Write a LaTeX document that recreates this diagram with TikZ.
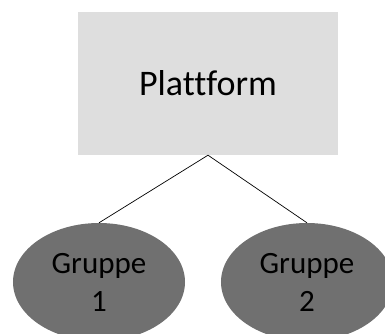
\documentclass[tikz,border=0pt]{standalone}
\usepackage{fontspec}
\setmainfont{Carlito}[Ligatures=NoCommon]
\usetikzlibrary{shapes.geometric}
\definecolor{boxgray}{HTML}{DEDEDE}
\definecolor{groupgray}{HTML}{707070}
\begin{document}
\begin{tikzpicture}[x=1bp, y=-1bp,
                    box/.style = {fill=boxgray, minimum width=260bp, minimum height=143bp, inner sep=0pt, font=\fontsize{36bp}{43bp}\selectfont},
                    group/.style = {ellipse, fill=groupgray, minimum width=172bp, minimum height=118bp, inner sep=0pt, align=center, font=\fontsize{31bp}{38bp}\selectfont}]
                                \useasboundingbox (0,0) rectangle (385,334);
                                \node[box] (1) at (208,83.5) {Plattform};
                                \node[group] (2) at (99,282) {Gruppe\\1};
                                \node[group] (3) at (307,282) {Gruppe\\2};
                                \draw[line width=0.7bp] (1.south) -- (2.north);
                                \draw[line width=0.7bp] (1.south) -- (3.north);
                            \end{tikzpicture}
\end{document}
